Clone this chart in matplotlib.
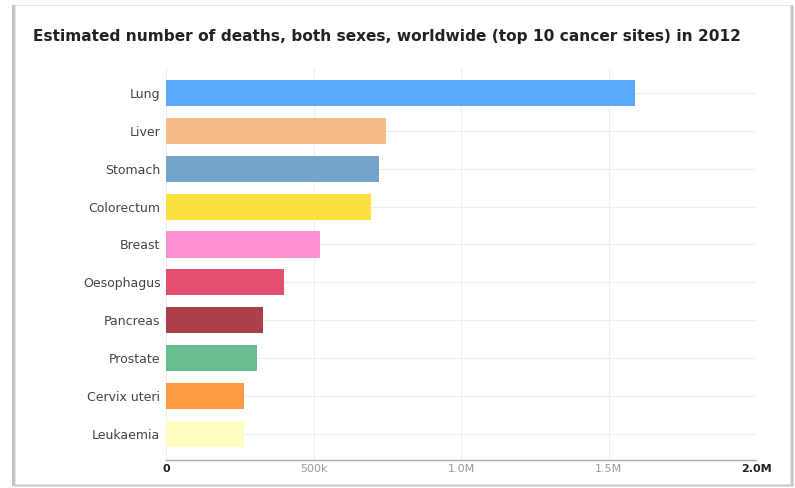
import matplotlib.pyplot as plt
from matplotlib.patches import Rectangle

sites = ['Lung', 'Liver', 'Stomach', 'Colorectum', 'Breast',
         'Oesophagus', 'Pancreas', 'Prostate', 'Cervix uteri', 'Leukaemia']
deaths = [1590000, 745000, 723000, 694000, 522000,
          400000, 330000, 307000, 266000, 265000]
colors = ['#58aafa', '#f5bd85', '#76a3c8', '#fde040', '#fe92d0',
          '#e24f71', '#ad3f4a', '#69be91', '#fd9b45', '#fffcc0']
xticks = [0, 500000, 1000000, 1500000, 2000000]
xtick_labels = ['0', '500k', '1.0M', '1.5M', '2.0M']
title = 'Estimated number of deaths, both sexes, worldwide (top 10 cancer sites) in 2012'

fig = plt.figure(figsize=(7.95, 4.88), dpi=100)

# card frame with a soft shadow
fig.patches.append(Rectangle((15/795, 1/488), 779/795, 481/488, transform=fig.transFigure,
                             facecolor='#e0e0e0', edgecolor='none', zorder=0))
fig.patches.append(Rectangle((12/795, 2/488), 781/795, 481/488, transform=fig.transFigure,
                             facecolor='#c4c4c4', edgecolor='none', zorder=0))
fig.patches.append(Rectangle((15/795, 4/488), 775/795, 479/488, transform=fig.transFigure,
                             facecolor='white', edgecolor='#e6e6e6', linewidth=0.8, zorder=0))

ax = fig.add_axes([166/795, 1 - 460/488, 590/795, 392/488])
ax.set_zorder(2)
ax.set_facecolor('none')

ypos = list(range(len(sites)))
ax.barh(ypos, deaths, height=0.69, color=colors, zorder=3)

ax.set_xlim(0, 2000000)
ax.set_ylim(9.69, -0.66)
ax.set_yticks(ypos)
ax.set_yticklabels(sites, fontsize=9, color='#444444')
ax.set_xticks(xticks)
ax.set_xticklabels(xtick_labels, fontsize=8, color='#999999')
for lbl in (ax.get_xticklabels()[0], ax.get_xticklabels()[-1]):
    lbl.set_fontweight('bold')
    lbl.set_color('#222222')
ax.tick_params(axis='both', length=0)
ax.tick_params(axis='x', pad=3)
ax.tick_params(axis='y', pad=4)

ax.grid(True, color='#eeeeee', linewidth=0.8, zorder=0)
ax.set_axisbelow(True)
for s in ['top', 'right']:
    ax.spines[s].set_visible(False)
ax.spines['left'].set_color('#eeeeee')
ax.spines['bottom'].set_color('#aaaaaa')
ax.spines['bottom'].set_linewidth(1.0)

fig.text(33/795, 1 - 37/488, title, fontsize=11.1, fontweight='bold',
         color='#222222', ha='left', va='center')

fig.savefig('out.png', dpi=100)
